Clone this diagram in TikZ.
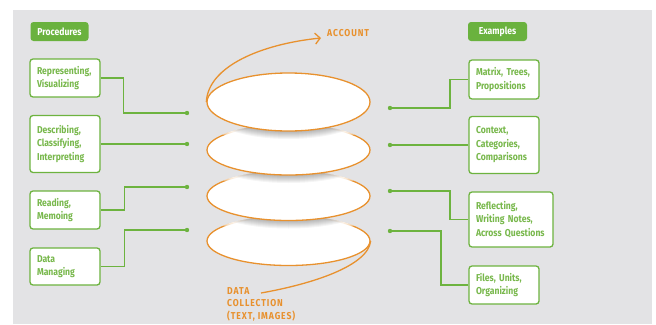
\documentclass[tikz,border=0pt]{standalone}
\usepackage{fontspec}
\setmainfont{Fira Sans}[FakeStretch=0.86]
\usetikzlibrary{arrows.meta,shapes.geometric}
\definecolor{bg}{HTML}{E3E3E5}
\definecolor{gline}{HTML}{6DB33F}
\definecolor{gtext}{HTML}{78B84C}
\definecolor{gtab}{HTML}{6AB23E}
\definecolor{orng}{HTML}{E8912E}
\newcommand\shadowover[4]{%
  \begin{scope}
    \clip (288.5,#3) ellipse [x radius=82.4, y radius=#4+0.9];
    \foreach \s in {8,9.5,11,12.5,14,15.5}
      \fill[white,opacity=0.35] (288.5,#1+\s) ellipse [x radius=81.5, y radius=#2];
    \foreach \s in {1,2,3,4,5,6,7,8}
      \fill[black,opacity=0.04] (288.5,#1+\s) ellipse [x radius=81.5, y radius=#2];
  \end{scope}}
\begin{document}
\begin{tikzpicture}[x=1pt,y=-1pt,
  box/.style={draw=gline, line width=1.3pt, rounded corners=3pt, fill=white,
    text=gtext, font=\fontsize{10}{13.5}\selectfont\bfseries, align=left,
    inner xsep=7pt, inner ysep=0pt, text width=56pt, minimum width=70pt},
  tab/.style={fill=gtab, rounded corners=3pt, text=white,
    font=\fontsize{10}{12}\selectfont\bfseries, inner xsep=6pt, inner ysep=0pt,
    minimum height=19pt, align=left},
  conn/.style={draw=gline, line width=1.4pt},
  dot/.style={fill=gline},
  ell/.style={ellipse, draw=orng, line width=1.3pt, fill=white, inner sep=0pt,
    minimum width=163pt},
  oline/.style={draw=orng, line width=1.3pt},
  otext/.style={text=orng, font=\fontsize{10}{12.5}\selectfont\bfseries\addfontfeature{LetterSpace=9}, align=left, inner sep=0pt}]
\useasboundingbox (0,0) rectangle (656,324);
\fill[bg] (13,10) rectangle (652,324);

% tabs
\node[tab, minimum width=58pt] (proc) at (59.5,31.5) {Procedures};
\node[tab, minimum width=59pt] (exam) at (497.5,31.5) {Examples};

% left boxes
\node[box, minimum height=38pt] (rep) at (65,78) {Representing,\\Visualizing};
\node[box, minimum height=57pt] (desc) at (65,144) {Describing,\\Classifying,\\Interpreting};
\node[box, minimum height=38pt] (read) at (65,210) {Reading,\\Memoing};
\node[box, minimum height=37pt] (dm) at (65,266.5) {Data\\Managing};

% right boxes
\node[box, minimum height=39pt] (mat) at (504,79.5) {Matrix, Trees,\\Propositions};
\node[box, minimum height=57pt] (ctx) at (504,145) {Context,\\Categories,\\Comparisons};
\node[box, minimum height=55pt, text width=70pt, minimum width=84pt] (refl) at (511,219.5) {Reflecting,\\Writing Notes,\\Across Questions};
\node[box, minimum height=38pt] (files) at (504,285) {Files, Units,\\Organizing};

% dots
\coordinate (dl1) at (187,113);
\coordinate (dl2) at (187,144);
\coordinate (dl3) at (187,187);
\coordinate (dl4) at (187,230);
\coordinate (dr1) at (390,108);
\coordinate (dr2) at (390,145);
\coordinate (dr3) at (390,191);
\coordinate (dr4) at (390,231);

\draw[conn] (rep.east) -- ++(23,0) |- (dl1);
\draw[conn] (desc.east) -- (dl2);
\draw[conn] (read.east) -- ++(24,0) |- (dl3);
\draw[conn] (dm.east) -- ++(24,0) |- (dl4);
\draw[conn] (dr1) -- ++(60,0) |- (mat.west);
\draw[conn] (dr2) -- (ctx.west);
\draw[conn] (dr3) -- ++(60,0) |- (refl.west);
\draw[conn] (dr4) -- ++(51,0) |- (files.west);
\foreach \d in {dl1,dl2,dl3,dl4,dr1,dr2,dr3,dr4}
  \fill[dot] (\d) circle (2.2);

% ellipse stack
\node[ell, minimum height=49pt] (e4) at (288.5,241) {};
\shadowover{196}{24.5}{241}{24.5}
\node[ell, minimum height=49pt] (e3) at (288.5,196) {};
\shadowover{150}{25}{196}{24.5}
\node[ell, minimum height=50pt] (e2) at (288.5,150) {};
\shadowover{102}{29}{150}{25}
\node[ell, minimum height=58pt] (e1) at (288.5,102) {};

% account arrow
\node[otext, anchor=west] (acc) at (327,33) {ACCOUNT};
\coordinate (acctip) at (321,38);
\draw[oline, -{Straight Barb[length=5pt,width=11pt]}] (e1.west) .. controls (208,66) and (262,44) .. (acctip);

% data collection
\node[otext, anchor=north west] (dc) at (227,287) {DATA\\COLLECTION\\(TEXT, IMAGES)};
\coordinate (dcend) at (261,293);
\draw[oline] (e4.east) .. controls (368,266) and (312,284) .. (dcend);
\end{tikzpicture}
\end{document}
